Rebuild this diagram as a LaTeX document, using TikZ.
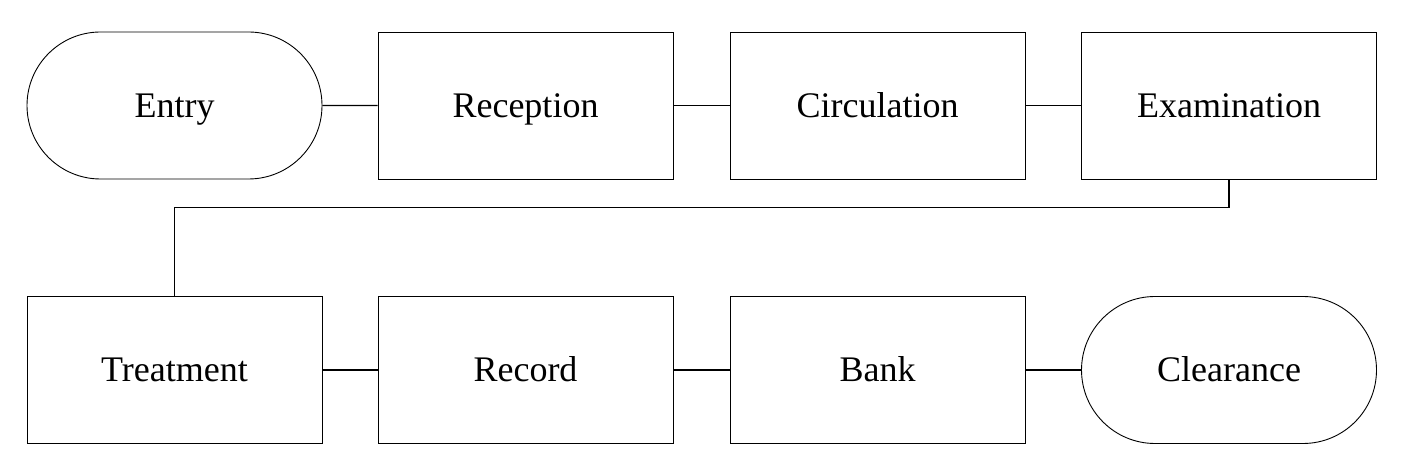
\documentclass[tikz,border=0pt]{standalone}
\usepackage{fontspec}
\setmainfont{Liberation Serif}
\usetikzlibrary{shapes.misc}
\begin{document}
\begin{tikzpicture}[x=1pt,y=1pt,
  box/.style={draw,line width=0.9pt,minimum width=295pt,minimum height=147pt,inner sep=0pt,text height=30pt,text depth=6pt,font=\fontsize{36}{40}\selectfont},
  term/.style={box,rounded rectangle},
  link/.style={draw,line width=1.4pt}]
\useasboundingbox (0,0) rectangle (1421,468);
\node[term] (entry) at (174.5,362.5) {Entry};
\node[box] (reception) at (525.5,362.5) {Reception};
\node[box] (circulation) at (877.5,362.5) {Circulation};
\node[box] (examination) at (1229,362.5) {Examination};
\node[box] (treatment) at (174.5,98) {Treatment};
\node[box] (record) at (525.5,98) {Record};
\node[box] (bank) at (877.5,98) {Bank};
\node[term] (clearance) at (1229,98) {Clearance};
\draw[link] (entry) -- (reception);
\draw[link] (reception) -- (circulation);
\draw[link] (circulation) -- (examination);
\draw[link] (examination.south) -- ++(0,-28) -| (treatment.north);
\draw[link] (treatment) -- (record);
\draw[link] (record) -- (bank);
\draw[link] (bank) -- (clearance);
\end{tikzpicture}
\end{document}
